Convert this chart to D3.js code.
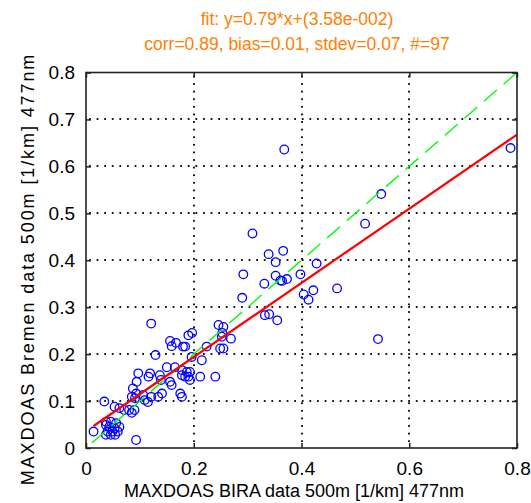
<!DOCTYPE html>
<html>
<head>
<meta charset="utf-8">
<script src="https://cdn.jsdelivr.net/npm/d3@7"></script>
<style>
  body { margin: 0; background: #fff; }
  svg { display: block; font-family: "Liberation Sans", Arial, sans-serif; }
</style>
</head>
<body>
<svg id="chart" width="531" height="503"></svg>
<script>
// ---- data ----
const biraX = [0.368,0.788,0.548,0.518,0.309,0.339,0.366,0.352,0.428,0.292,0.352,0.361,0.364,0.373,0.398,0.331,0.290,0.404,0.413,0.422,0.466,0.542,0.332,0.340,0.355,0.246,0.255,0.190,0.197,0.253,0.252,0.269,0.156,0.167,0.180,0.184,0.159,0.224,0.249,0.255,0.121,0.129,0.196,0.215,0.150,0.165,0.178,0.187,0.193,0.178,0.184,0.190,0.193,0.212,0.240,0.119,0.116,0.097,0.094,0.137,0.156,0.159,0.141,0.134,0.175,0.178,0.087,0.093,0.085,0.091,0.106,0.109,0.115,0.121,0.034,0.053,0.062,0.071,0.080,0.090,0.085,0.037,0.046,0.056,0.037,0.043,0.053,0.062,0.040,0.049,0.059,0.014,0.037,0.046,0.054,0.093,0.139];
const bremenY = [0.636,0.639,0.541,0.478,0.457,0.413,0.420,0.396,0.393,0.370,0.367,0.357,0.356,0.360,0.370,0.350,0.320,0.327,0.316,0.336,0.340,0.232,0.283,0.285,0.272,0.262,0.258,0.240,0.245,0.245,0.237,0.233,0.228,0.224,0.216,0.216,0.217,0.216,0.212,0.212,0.265,0.198,0.194,0.187,0.172,0.172,0.166,0.162,0.162,0.155,0.152,0.152,0.145,0.152,0.152,0.159,0.152,0.159,0.141,0.155,0.141,0.134,0.116,0.109,0.116,0.109,0.127,0.116,0.109,0.106,0.113,0.102,0.098,0.109,0.099,0.088,0.085,0.081,0.081,0.081,0.075,0.056,0.056,0.053,0.049,0.045,0.042,0.045,0.035,0.035,0.035,0.035,0.028,0.028,0.028,0.017,0.145];
const fitSlope = 0.79;
const fitIntercept = 0.0358;
const fitRange = [0.014, 0.8];
const oneToOneRange = [0.011, 0.8];
const xTicks = [0, 0.2, 0.4, 0.6, 0.8];
const xTickLabels = ["0", "0.2", "0.4", "0.6", "0.8"];
const yTicks = [0, 0.1, 0.2, 0.3, 0.4, 0.5, 0.6, 0.7, 0.8];
const yTickLabels = ["0", "0.1", "0.2", "0.3", "0.4", "0.5", "0.6", "0.7", "0.8"];
const titleLines = ["fit: y=0.79*x+(3.58e-002)", "corr=0.89, bias=0.01, stdev=0.07, #=97"];
const xLabel = "MAXDOAS BIRA data 500m [1/km] 477nm";
const yLabel = "MAXDOAS Bremen data 500m [1/km] 477nm";

// ---- layout ----
const L = 86, R = 517, T = 72.5, B = 448;
const svg = d3.select("#chart");
const x = d3.scaleLinear().domain([0, 0.8]).range([L, R]);
const y = d3.scaleLinear().domain([0, 0.8]).range([B, T]);

// grid (dotted) drawn as small square dots along each grid line
const dotStep = 7.6, dotSize = 1.8;
const grid = svg.append("g").attr("fill", "#000");
xTicks.slice(1, -1).forEach(t => {
  const gx = Math.round(x(t));
  grid.selectAll(null).data(d3.range(T + 3, B - 1, dotStep)).join("rect")
    .attr("x", gx - dotSize / 2).attr("y", d => d).attr("width", dotSize).attr("height", dotSize);
});
yTicks.slice(1, -1).forEach(t => {
  const gy = Math.round(y(t));
  grid.selectAll(null).data(d3.range(L + 3, R - 1, dotStep)).join("rect")
    .attr("x", d => d).attr("y", gy - dotSize / 2).attr("width", dotSize).attr("height", dotSize);
});

// clip
svg.append("clipPath").attr("id", "clip").append("rect")
  .attr("x", L).attr("y", T).attr("width", R - L).attr("height", B - T);
const plot = svg.append("g").attr("clip-path", "url(#clip)");

// points
const pts = biraX.map((v, i) => [v, bremenY[i]]);
plot.selectAll("circle").data(pts).join("circle")
  .attr("cx", d => x(d[0])).attr("cy", d => y(d[1])).attr("r", 4.3)
  .attr("fill", "none").attr("stroke", "#0000ff").attr("stroke-width", 1.3);

// 1:1 line (green dashed)
plot.append("line")
  .attr("x1", x(oneToOneRange[0])).attr("y1", y(oneToOneRange[0]))
  .attr("x2", x(oneToOneRange[1])).attr("y2", y(oneToOneRange[1]))
  .attr("stroke", "#00ff00").attr("stroke-width", 1.4).attr("stroke-dasharray", "17,9");

// fit line (red)
plot.append("line")
  .attr("x1", x(fitRange[0])).attr("y1", y(fitSlope * fitRange[0] + fitIntercept))
  .attr("x2", x(fitRange[1])).attr("y2", y(fitSlope * fitRange[1] + fitIntercept))
  .attr("stroke", "#ff0000").attr("stroke-width", 2.2);

// axes
const fmtX = d => xTickLabels[xTicks.indexOf(d)];
const fmtY = d => yTickLabels[yTicks.indexOf(d)];
const tick = 5;
svg.append("g").attr("transform", `translate(0,${B})`)
  .call(d3.axisBottom(x).tickValues(xTicks).tickFormat(fmtX).tickSizeInner(-tick).tickSizeOuter(0).tickPadding(14));
svg.append("g").attr("transform", `translate(${L},0)`)
  .call(d3.axisLeft(y).tickValues(yTicks).tickFormat(fmtY).tickSizeInner(-tick).tickSizeOuter(0).tickPadding(11));
svg.append("g").attr("transform", `translate(0,${T})`)
  .call(d3.axisTop(x).tickValues(xTicks).tickFormat("").tickSizeInner(-tick).tickSizeOuter(0));
svg.append("g").attr("transform", `translate(${R},0)`)
  .call(d3.axisRight(y).tickValues(yTicks).tickFormat("").tickSizeInner(-tick).tickSizeOuter(0));
svg.selectAll(".domain").remove();
svg.selectAll(".tick line").attr("stroke", "#222").attr("stroke-width", 1.5);
svg.selectAll(".tick text").attr("fill", "#000").style("font-size", "19px")
  .style("font-family", "'Liberation Sans', Arial, sans-serif");

// frame
svg.append("rect").attr("x", L).attr("y", T).attr("width", R - L).attr("height", B - T)
  .attr("fill", "none").attr("stroke", "#222").attr("stroke-width", 1.6);

// title
svg.selectAll("text.title").data(titleLines).join("text").attr("class", "title")
  .attr("x", 297).attr("y", (d, i) => 25 + i * 25)
  .attr("text-anchor", "middle").attr("fill", "#ff8000")
  .style("font-size", "17.5px").text(d => d);

// axis labels
svg.append("text").attr("x", 294).attr("y", 497).attr("text-anchor", "middle")
  .attr("fill", "#000").style("font-size", "18px").text(xLabel);
svg.append("text").attr("transform", "translate(34,269) rotate(-90)").attr("text-anchor", "middle")
  .attr("fill", "#000").style("font-size", "18px").style("letter-spacing", "1.9px").text(yLabel);
</script>
</body>
</html>
